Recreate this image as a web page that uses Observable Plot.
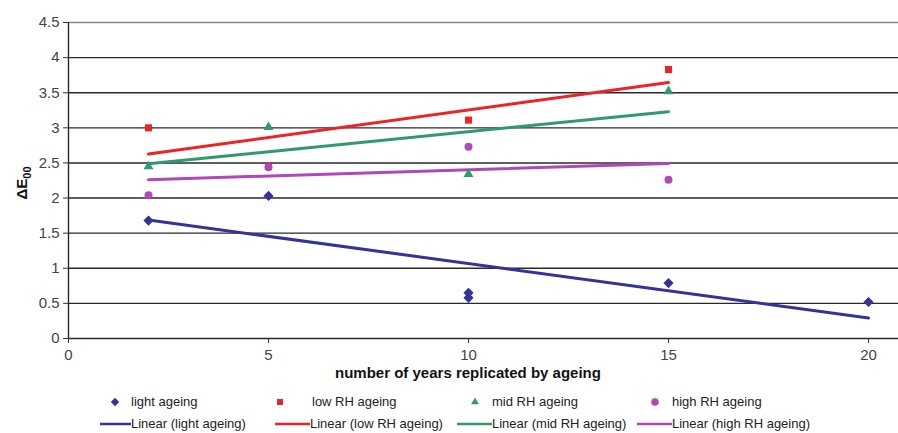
<!DOCTYPE html>
<html>
<head>
<meta charset="utf-8">
<script src="https://cdn.jsdelivr.net/npm/d3@7"></script>
<script src="https://cdn.jsdelivr.net/npm/@observablehq/plot@0.6"></script>
<style>
  html, body { margin: 0; padding: 0; background: #fff; }
  #wrap { position: relative; width: 898px; height: 433px; font-family: "Liberation Sans", Arial, sans-serif; }
  .leg { position: absolute; font-size: 13px; color: #222; white-space: nowrap; line-height: 16px; }
</style>
</head>
<body>
<div id="wrap"></div>
<script>
// ---- data ----
const seriesNames = ["light ageing", "low RH ageing", "mid RH ageing", "high RH ageing"];
const lightYears = [2, 5, 10, 10, 15, 20];
const lightValues = [1.68, 2.03, 0.65, 0.58, 0.79, 0.52];
const rhYears = [2, 5, 10, 15];
const lowRHValues = [3.00, 2.45, 3.11, 3.83];
const midRHValues = [2.45, 3.01, 2.34, 3.52];
const highRHValues = [2.04, 2.44, 2.73, 2.26];
const yTicks = [0, 0.5, 1, 1.5, 2, 2.5, 3, 3.5, 4, 4.5];
const xTicks = [0, 5, 10, 15, 20];
const colors = ["#33339a", "#ec2424", "#2f9a6c", "#b048b8"];
const symbols = ["diamond2", "square", "triangle", "circle"];
const symbolR = [4.6, 4, 3.7, 4];

const rows = [];
lightYears.forEach((x, i) => rows.push({s: seriesNames[0], x, y: lightValues[i]}));
rhYears.forEach((x, i) => rows.push({s: seriesNames[1], x, y: lowRHValues[i]}));
rhYears.forEach((x, i) => rows.push({s: seriesNames[2], x, y: midRHValues[i]}));
rhYears.forEach((x, i) => rows.push({s: seriesNames[3], x, y: highRHValues[i]}));

const W = 898, H = 385;
const marks = [
  Plot.ruleY(yTicks, {y: d => d, stroke: d => d === 4.5 ? "#8a8a8a" : "#2a2a2a", strokeWidth: 1.4}),
  Plot.ruleX([0], {stroke: "#2a2a2a", strokeWidth: 1.4}),
  Plot.axisY({ticks: yTicks, tickSize: 5, tickPadding: 4, tickFormat: d => String(d), fontSize: 15, fill: "#444", stroke: "#333", label: null}),
  Plot.axisX({ticks: xTicks, tickSize: 5, tickPadding: 6, fontSize: 15, fill: "#444", stroke: "#333", label: null})
];
seriesNames.forEach((name, i) => {
  const d = rows.filter(r => r.s === name);
  marks.push(Plot.linearRegressionY(d, {x: "x", y: "y", stroke: colors[i], strokeWidth: 3, ci: 0}));
});
seriesNames.forEach((name, i) => {
  const d = rows.filter(r => r.s === name);
  marks.push(Plot.dot(d, {x: "x", y: "y", fill: colors[i], stroke: "none", symbol: symbols[i], r: symbolR[i]}));
});

const chart = Plot.plot({
  width: W, height: H,
  marginLeft: 68, marginRight: 0, marginTop: 22, marginBottom: 47,
  x: {domain: [0, 20.75]},
  y: {domain: [0, 4.5]},
  style: {fontFamily: "Liberation Sans, Arial, sans-serif", background: "#fff"},
  marks
});

const svg = d3.select(chart);
// y axis label with subscript
const yl = svg.append("text")
  .attr("transform", "translate(27,183) rotate(-90)")
  .attr("text-anchor", "middle")
  .attr("font-weight", "bold").attr("font-size", 15).attr("fill", "#111");
yl.append("tspan").text("ΔE");
yl.append("tspan").attr("font-size", 11).attr("dy", 4).text("00");
// x axis label
svg.append("text")
  .attr("x", 468).attr("y", 378)
  .attr("text-anchor", "middle")
  .attr("font-weight", "bold").attr("font-size", 15).attr("fill", "#111")
  .text("number of years replicated by ageing");

const wrap = document.getElementById("wrap");
wrap.appendChild(chart);
chart.style.position = "absolute"; chart.style.left = "0"; chart.style.top = "0";

// ---- legend ----
const markerX = [115, 280, 475, 655];
const markerText = [131, 312, 492, 672];
const lineX = [[100, 131], [275, 310], [457, 492], [637, 672]];
const sym = [d3.symbolDiamond2, d3.symbolSquare2, d3.symbolTriangle2, d3.symbolCircle];
seriesNames.forEach((name, i) => {
  const t = document.createElement("div");
  t.className = "leg"; t.style.left = markerText[i] + "px"; t.style.top = "394px";
  t.textContent = name; wrap.appendChild(t);
  const t2 = document.createElement("div");
  t2.className = "leg"; t2.style.left = lineX[i][1] + "px"; t2.style.top = "416px";
  t2.textContent = "Linear (" + name + ")"; wrap.appendChild(t2);
});
const lsvg = d3.select(wrap).append("svg")
  .attr("width", W).attr("height", 48)
  .style("position", "absolute").style("left", "0").style("top", "385px");
seriesNames.forEach((name, i) => {
  lsvg.append("path")
    .attr("transform", `translate(${markerX[i]},17)`)
    .attr("d", d3.symbol(sym[i], i === 2 ? 45 : 45)())
    .attr("fill", colors[i]);
  lsvg.append("line")
    .attr("x1", lineX[i][0]).attr("x2", lineX[i][1])
    .attr("y1", 39).attr("y2", 39)
    .attr("stroke", colors[i]).attr("stroke-width", 2.5);
});
</script>
</body>
</html>
